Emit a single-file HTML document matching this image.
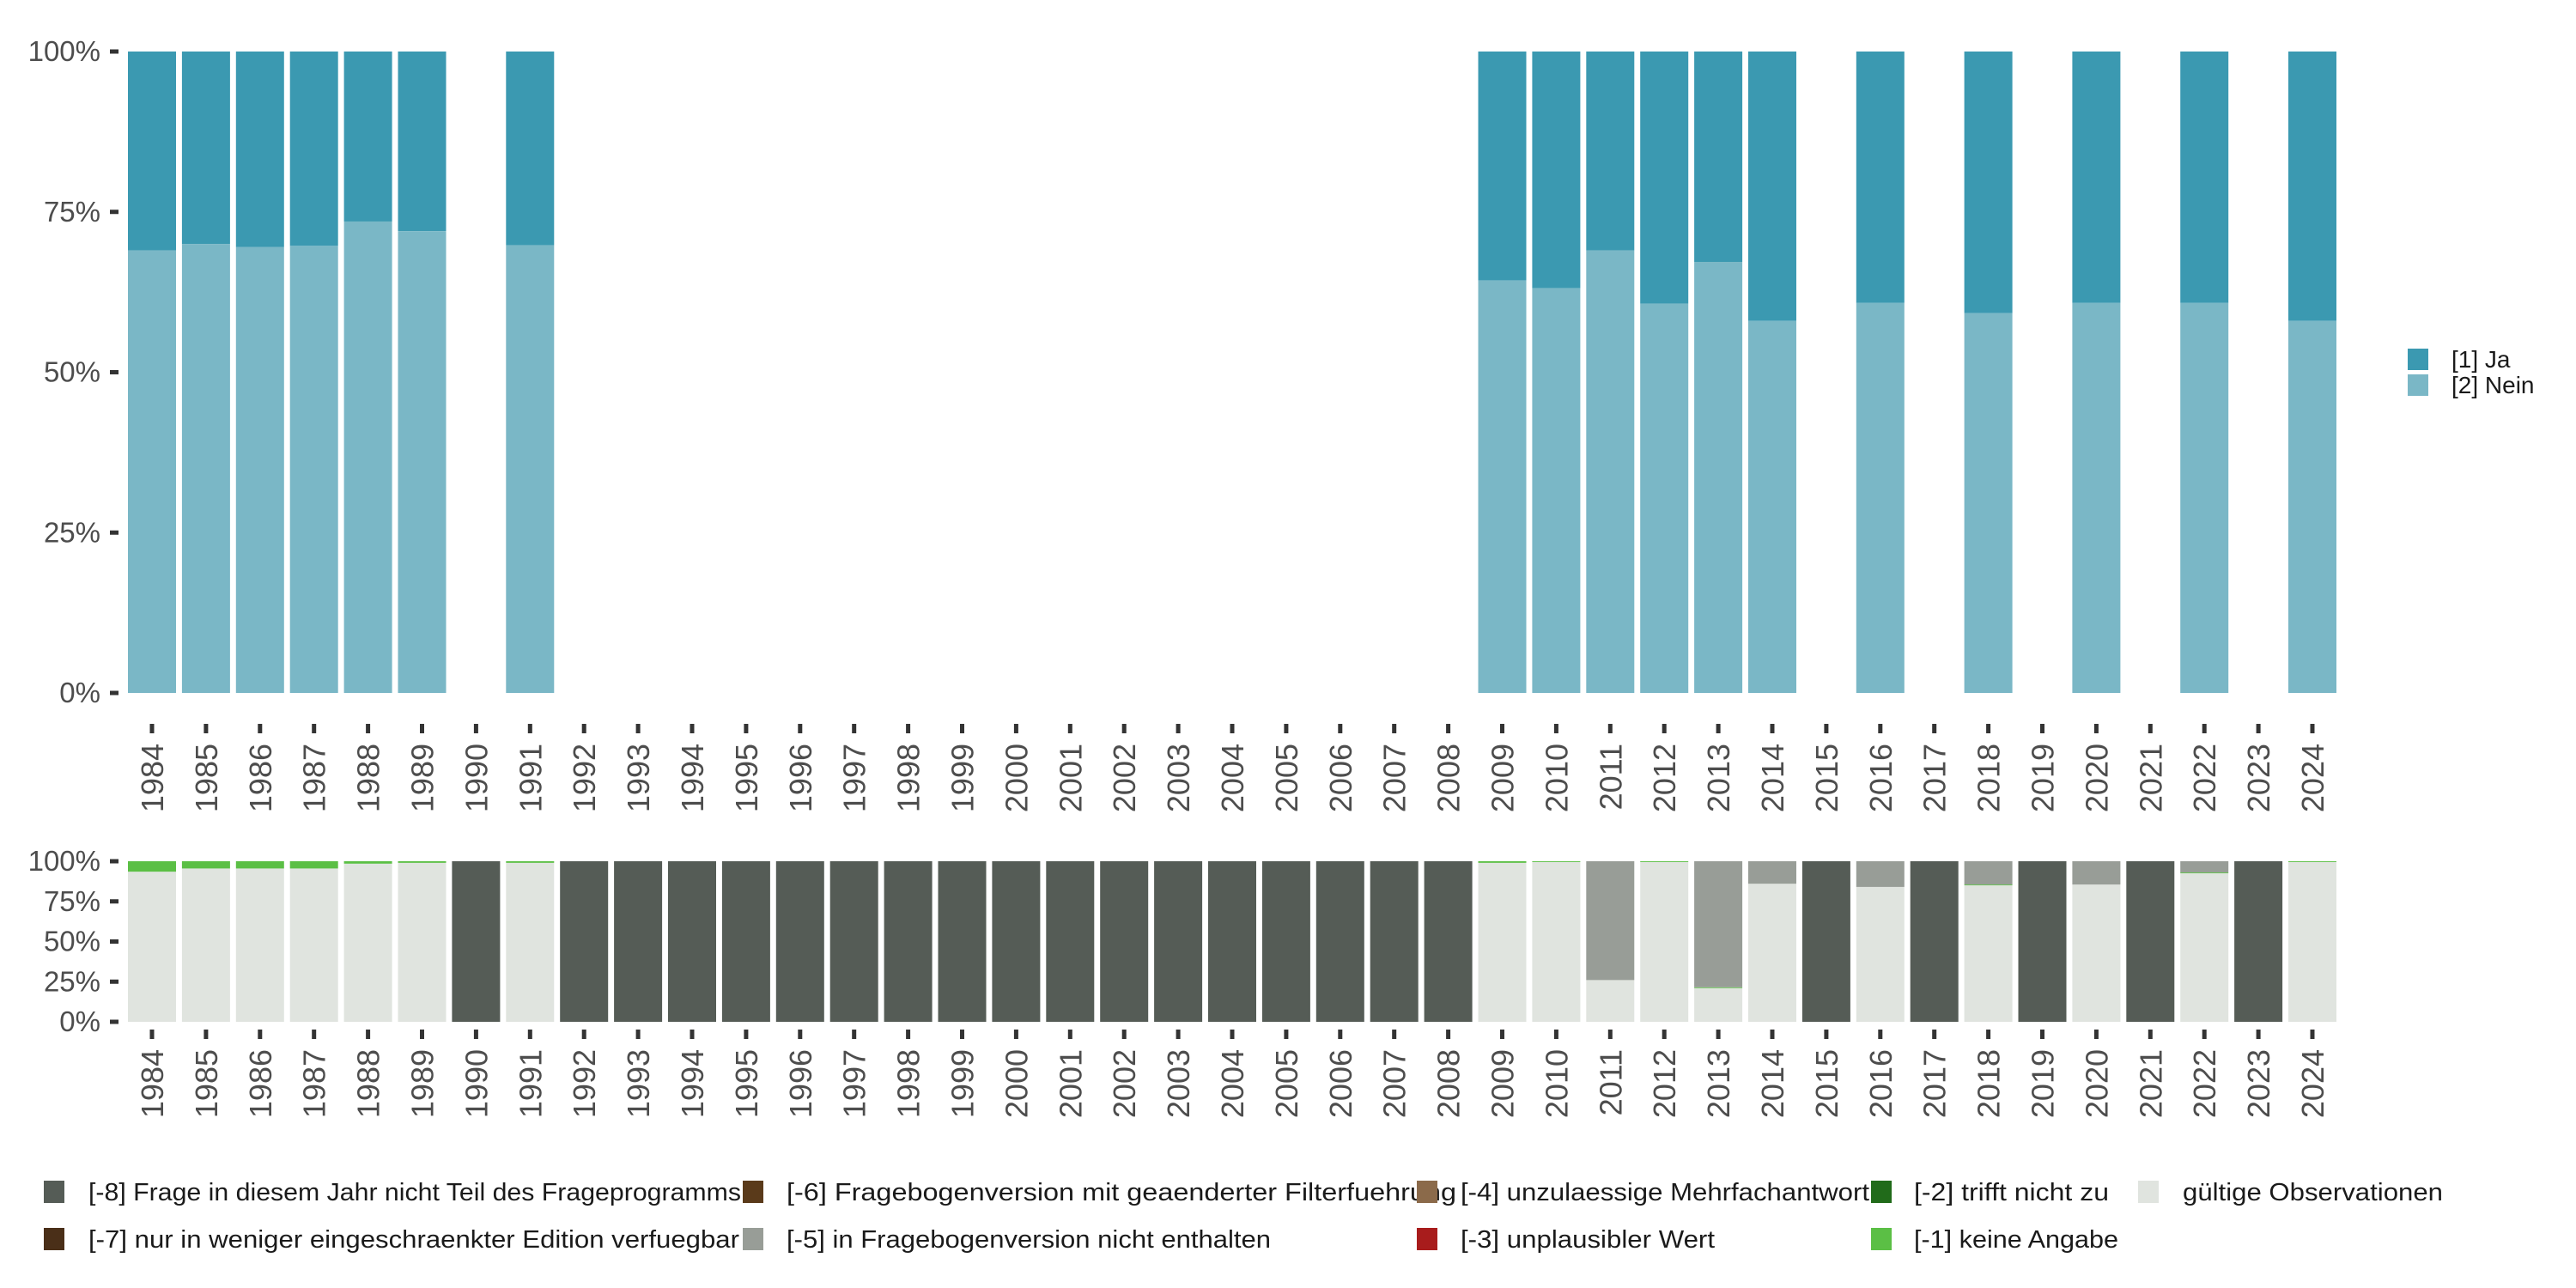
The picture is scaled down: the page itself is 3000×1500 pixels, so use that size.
<!DOCTYPE html>
<html><head><meta charset="utf-8"><style>
html,body{margin:0;padding:0;background:#fff;}
svg{display:block;font-family:"Liberation Sans","DejaVu Sans",sans-serif;}
</style></head><body>
<svg id="chart" width="3000" height="1500" viewBox="0 0 3000 1500" xmlns="http://www.w3.org/2000/svg">
<g id="topg"></g>
<g id="botg"></g>
<g id="leg1"></g>
<g id="leg2"></g>
</svg>
<script>
const years = [];
for (let y = 1984; y <= 2024; y++) years.push(String(y));
const topYears = ["1984","1985","1986","1987","1988","1989","1991","2009","2010","2011","2012","2013","2014","2016","2018","2020","2022","2024"];
const neinShare = [0.69,0.70,0.695,0.697,0.735,0.72,0.698,0.643,0.631,0.69,0.607,0.672,0.58,0.608,0.592,0.608,0.608,0.58];
const yTicks = [0,0.25,0.5,0.75,1];
const yTickLabels = ["0%","25%","50%","75%","100%"];
// bottom chart shares per year (1984..2024)
const validShare = [0.935,0.955,0.955,0.955,0.985,0.99,0,0.99,0,0,0,0,0,0,0,0,0,0,0,0,0,0,0,0,0,0.99,0.995,0.26,0.995,0.21,0.86,0,0.84,0,0.85,0,0.855,0,0.925,0,0.995];
const noAnswerShare = [0.065,0.045,0.045,0.045,0.015,0.01,0,0.01,0,0,0,0,0,0,0,0,0,0,0,0,0,0,0,0,0,0.01,0.005,0,0.005,0.005,0,0,0,0,0.005,0,0,0,0.005,0,0.005];
const notInVersionShare = [0,0,0,0,0,0,0,0,0,0,0,0,0,0,0,0,0,0,0,0,0,0,0,0,0,0,0,0.74,0,0.785,0.14,0,0.16,0,0.145,0,0.145,0,0.07,0,0];
const notInYearShare = [0,0,0,0,0,0,1,0,1,1,1,1,1,1,1,1,1,1,1,1,1,1,1,1,1,0,0,0,0,0,0,1,0,1,0,1,0,1,0,1,0];

const NS="http://www.w3.org/2000/svg";
function mk(parent, tag, attrs, text){const e=document.createElementNS(NS,tag);for(const k in attrs)e.setAttribute(k,attrs[k]);if(text!==undefined)e.textContent=text;parent.appendChild(e);return e;}
const x0=177, step=62.9, bw=56;
const xC = i => x0 + i*step;
const topY = v => 807 - v*(807-60);
const botY = v => 1190 - v*(1190-1003);

function axes(g, yf, labY){
  yTicks.forEach((t,i)=>{
    const tk=mk(g,'rect',{x:128,y:yf(t)-2.5,width:10,height:5,fill:'#333'});
    
    
    const l=mk(g,'text',{x:117,y:yf(t)+11,'text-anchor':'end','font-size':33,fill:'#4d4d4d'},yTickLabels[i]);
    
    
  });
  years.forEach((yr,i)=>{
    const tk=mk(g,'rect',{x:xC(i)-2.5,y:labY-23,width:5,height:11,fill:'#333'});
    
    
    const l=mk(g,'text',{x:0,y:0,'text-anchor':'end','font-size':36,fill:'#4d4d4d',transform:`translate(${xC(i)+13},${labY}) rotate(-90)`},yr);
    
    
  });
}
const topG=document.getElementById('topg');
topYears.forEach((yr,j)=>{
  const i=years.indexOf(yr); const n=neinShare[j];
  const a=mk(topG,'rect',{x:xC(i)-bw/2,y:topY(1),width:bw,height:topY(n)-topY(1),fill:'#3b99b1'});
  
  
  const b=mk(topG,'rect',{x:xC(i)-bw/2,y:topY(n),width:bw,height:topY(0)-topY(n),fill:'#7ab7c6'});
  
  
});
axes(topG, topY, 866);

const botG=document.getElementById('botg');
const segs=[[validShare,'#e0e4df','valid'],[noAnswerShare,'#5bbf45','keine-angabe'],[notInVersionShare,'#989d97','nicht-enthalten'],[notInYearShare,'#555c56','nicht-teil']];
years.forEach((yr,i)=>{
  let c=0;
  segs.forEach(s=>{
    const v=s[0][i]; if(v<=0) return;
    const r=mk(botG,'rect',{x:xC(i)-bw/2,y:botY(c+v),width:bw,height:botY(c)-botY(c+v),fill:s[1]});
    
    
    c+=v;
  });
});
axes(botG, botY, 1222);

const l1=document.getElementById('leg1');
[['[1] Ja','#3b99b1',406],['[2] Nein','#7ab7c6',436]].forEach(e=>{
  const r=mk(l1,'rect',{x:2804,y:e[2],width:24,height:25,fill:e[1]});
  
  
  const t=mk(l1,'text',{x:2855,y:e[2]+22,'font-size':28,fill:'#1a1a1a'},e[0]);
  
  
});
const l2=document.getElementById('leg2');
const items=[
 [51,103,1375,'[-8] Frage in diesem Jahr nicht Teil des Frageprogramms','#555c56',760],
 [51,103,1430,'[-7] nur in weniger eingeschraenkter Edition verfuegbar','#4a2f18',758],
 [865,916,1375,'[-6] Fragebogenversion mit geaenderter Filterfuehrung','#5a3a1a',780],
 [865,916,1430,'[-5] in Fragebogenversion nicht enthalten','#989d97',564],
 [1650,1701,1375,'[-4] unzulaessige Mehrfachantwort','#8b6a4a',476],
 [1650,1701,1430,'[-3] unplausibler Wert','#a81c1c',296],
 [2179,2229,1375,'[-2] trifft nicht zu','#216b1a',227],
 [2179,2229,1430,'[-1] keine Angabe','#5bbf45',238],
 [2490,2542,1375,'gültige Observationen','#e0e4df',303]
];
items.forEach(e=>{
  const r=mk(l2,'rect',{x:e[0],y:e[2],width:24,height:26,fill:e[4]});
  
  
  const t=mk(l2,'text',{x:e[1],y:e[2]+23,'font-size':29,fill:'#1a1a1a',textLength:e[5],lengthAdjust:'spacingAndGlyphs'},e[3]);
  
  
});
</script>
</body></html>
